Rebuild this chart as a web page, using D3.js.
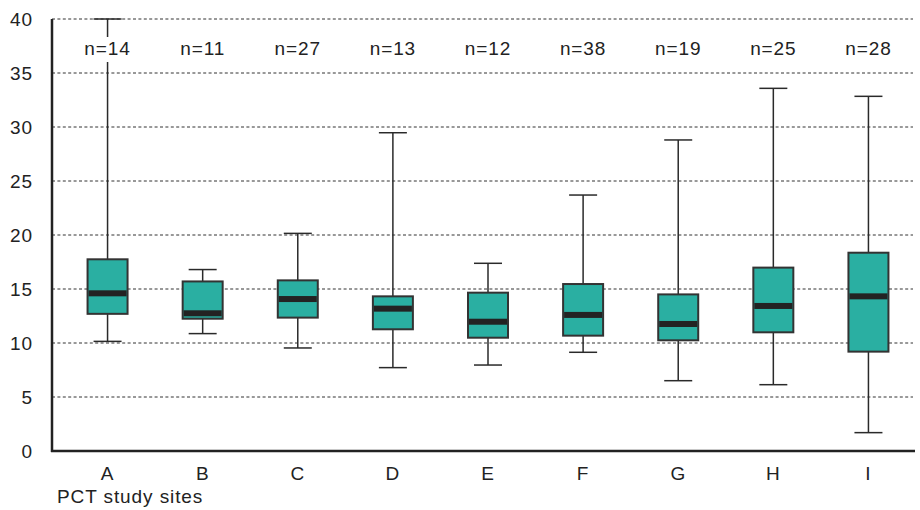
<!DOCTYPE html>
<html>
<head>
<meta charset="utf-8">
<script src="https://cdn.jsdelivr.net/npm/d3@7"></script>
<style>
  html, body { margin: 0; padding: 0; background: #fff; }
  svg { display: block; font-family: "Liberation Sans", Arial, Helvetica, sans-serif; }
  text { letter-spacing: 0.9px; }
</style>
</head>
<body>
<svg id="chart" width="920" height="510"></svg>
<script>
// Study sites and their sample sizes
const sites = ["A", "B", "C", "D", "E", "F", "G", "H", "I"];
const counts = [14, 11, 27, 13, 12, 38, 19, 25, 28];

// Five-number summaries per site
const whiskerLow  = [10.15, 10.87, 9.54, 7.72, 7.96, 9.14, 6.51, 6.14, 1.7];
const q1          = [12.7, 12.25, 12.35, 11.27, 10.49, 10.68, 10.25, 10.99, 9.2];
const median      = [14.6, 12.75, 14.07, 13.18, 11.97, 12.6, 11.76, 13.43, 14.32];
const q3          = [17.75, 15.7, 15.8, 14.32, 14.66, 15.46, 14.5, 16.98, 18.36];
const whiskerHigh = [40, 16.8, 20.15, 29.47, 17.38, 23.7, 28.8, 33.58, 32.84];

const yTicks = [0, 5, 10, 15, 20, 25, 30, 35, 40];
const xTitle = "PCT study sites";

const svg = d3.select("#chart");

const x = d3.scaleBand().domain(sites).range([60, 916]);
const y = d3.scaleLinear().domain([0, 40]).range([451, 19]);

const data = sites.map((s, i) => ({
  site: s, n: counts[i],
  lo: whiskerLow[i], q1: q1[i], med: median[i], q3: q3[i], hi: whiskerHigh[i]
}));

// Dotted horizontal gridlines
svg.append("g")
  .selectAll("line")
  .data(yTicks.filter(t => t > 0))
  .join("line")
  .attr("x1", 52).attr("x2", 913)
  .attr("y1", d => y(d)).attr("y2", d => y(d))
  .attr("stroke", "#333")
  .attr("stroke-width", 1)
  .attr("stroke-dasharray", "3,2.4");

// Y tick labels
svg.append("g")
  .selectAll("text")
  .data(yTicks)
  .join("text")
  .attr("x", 33)
  .attr("y", d => y(d))
  .attr("dy", "0.35em")
  .attr("text-anchor", "end")
  .attr("font-size", 19)
  .attr("fill", "#222")
  .text(d => d);

const boxW = 40, capW = 28;
const g = svg.append("g")
  .selectAll("g")
  .data(data)
  .join("g")
  .attr("transform", d => `translate(${x(d.site) + x.bandwidth() / 2},0)`);

// Whiskers
g.append("line")
  .attr("x1", 0).attr("x2", 0)
  .attr("y1", d => y(d.hi)).attr("y2", d => y(d.lo))
  .attr("stroke", "#2a2a2a").attr("stroke-width", 1.5);
g.append("line")
  .attr("x1", -capW / 2).attr("x2", capW / 2)
  .attr("y1", d => y(d.hi)).attr("y2", d => y(d.hi))
  .attr("stroke", "#2a2a2a").attr("stroke-width", 1.5);
g.append("line")
  .attr("x1", -capW / 2).attr("x2", capW / 2)
  .attr("y1", d => y(d.lo)).attr("y2", d => y(d.lo))
  .attr("stroke", "#2a2a2a").attr("stroke-width", 1.5);

// Boxes
g.append("rect")
  .attr("x", -boxW / 2)
  .attr("width", boxW)
  .attr("y", d => y(d.q3))
  .attr("height", d => y(d.q1) - y(d.q3))
  .attr("fill", "#2aafa2")
  .attr("stroke", "#333")
  .attr("stroke-width", 2);

// Median bars
g.append("rect")
  .attr("x", -boxW / 2 + 1)
  .attr("width", boxW - 2)
  .attr("y", d => y(d.med) - 3)
  .attr("height", 6)
  .attr("fill", "#232323");

// Sample-size labels on a white backing
const nLab = g.append("g");
nLab.append("rect")
  .attr("x", -28).attr("width", 56)
  .attr("y", 37).attr("height", 25)
  .attr("fill", "#fff");
nLab.append("text")
  .attr("x", 0).attr("y", 55)
  .attr("text-anchor", "middle")
  .attr("font-size", 19)
  .attr("fill", "#222")
  .text(d => "n=" + d.n);

// Category labels
g.append("text")
  .attr("x", 0).attr("y", 480)
  .attr("text-anchor", "middle")
  .attr("font-size", 19)
  .attr("fill", "#222")
  .text(d => d.site);

// Axis lines
svg.append("line")
  .attr("x1", 52).attr("x2", 52)
  .attr("y1", 19).attr("y2", 452)
  .attr("stroke", "#222").attr("stroke-width", 2.5);
svg.append("line")
  .attr("x1", 51).attr("x2", 915)
  .attr("y1", 451).attr("y2", 451)
  .attr("stroke", "#222").attr("stroke-width", 2.5);

// Axis title
svg.append("text")
  .attr("x", 57).attr("y", 503)
  .attr("font-size", 19)
  .attr("fill", "#222")
  .text(xTitle);
</script>
</body>
</html>
